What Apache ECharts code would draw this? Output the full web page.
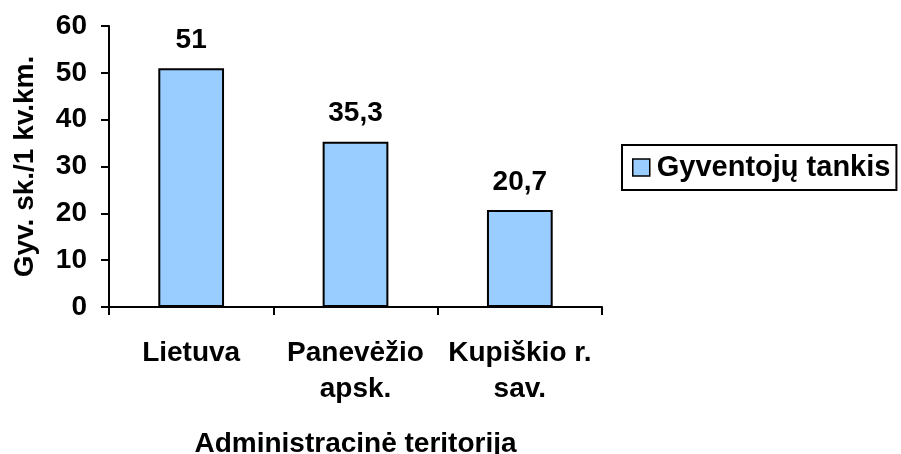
<!DOCTYPE html>
<html>
<head>
<meta charset="utf-8">
<script src="https://cdn.jsdelivr.net/npm/echarts@6/dist/echarts.min.js"></script>
<style>html,body{margin:0;padding:0;background:#fff}#c{width:901px;height:454px}</style>
</head>
<body>
<div id="c"></div>
<script>
var categories = ['Lietuva', 'Panevėžio\napsk.', 'Kupiškio r.\nsav.'];
var values = [51, 35.3, 20.7];
var seriesName = 'Gyventojų tankis';
var xAxisTitle = 'Administracinė teritorija';
var yAxisTitle = 'Gyv. sk./1 kv.km.';

var FONT = 'Arial, "Liberation Sans", sans-serif';
var chart = echarts.init(document.getElementById('c'), null, {renderer: 'canvas'});
chart.setOption({
  animation: false,
  backgroundColor: '#fff',
  textStyle: {fontFamily: FONT},
  grid: {left: 109, right: 299, top: 26, bottom: 147, containLabel: false, outerBoundsMode: 'none'},
  legend: {
    data: [seriesName],
    left: 622, top: 145,
    padding: [8, 6, 8, 10],
    borderColor: '#000', borderWidth: 2,
    itemWidth: 17, itemHeight: 17, icon: 'rect',
    itemStyle: {borderColor: '#000', borderWidth: 1.5},
    textStyle: {fontSize: 29, fontWeight: 'bold', color: '#000', fontFamily: FONT, padding: [0, 0, 0, 2]}
  },
  xAxis: {
    type: 'category',
    data: categories,
    name: xAxisTitle,
    nameLocation: 'middle',
    nameGap: 123,
    nameTextStyle: {fontSize: 28, fontWeight: 'bold', color: '#000', fontFamily: FONT},
    axisLine: {lineStyle: {color: '#000', width: 2}},
    axisTick: {show: true, length: 8, lineStyle: {color: '#000', width: 2}},
    axisLabel: {fontSize: 28, fontWeight: 'bold', color: '#000', margin: 28, lineHeight: 36, fontFamily: FONT, interval: 0}
  },
  yAxis: {
    type: 'value',
    min: 0, max: 60, interval: 10,
    name: yAxisTitle,
    nameLocation: 'middle',
    nameGap: 70,
    nameTextStyle: {fontSize: 28, fontWeight: 'bold', color: '#000', fontFamily: FONT},
    axisLine: {show: true, lineStyle: {color: '#000', width: 2}},
    axisTick: {show: true, length: 8, lineStyle: {color: '#000', width: 2}},
    axisLabel: {fontSize: 28, fontWeight: 'bold', color: '#000', margin: 22, fontFamily: FONT},
    splitLine: {show: false}
  },
  series: [{
    name: seriesName,
    type: 'bar',
    data: values,
    barWidth: '40%',
    itemStyle: {color: '#99CCFF', borderColor: '#000', borderWidth: 2},
    label: {
      show: true, position: 'top', distance: 14,
      fontSize: 28, fontWeight: 'bold', color: '#000', fontFamily: FONT,
      formatter: function (p) { return String(p.value).replace('.', ','); }
    }
  }]
});
</script>
</body>
</html>
